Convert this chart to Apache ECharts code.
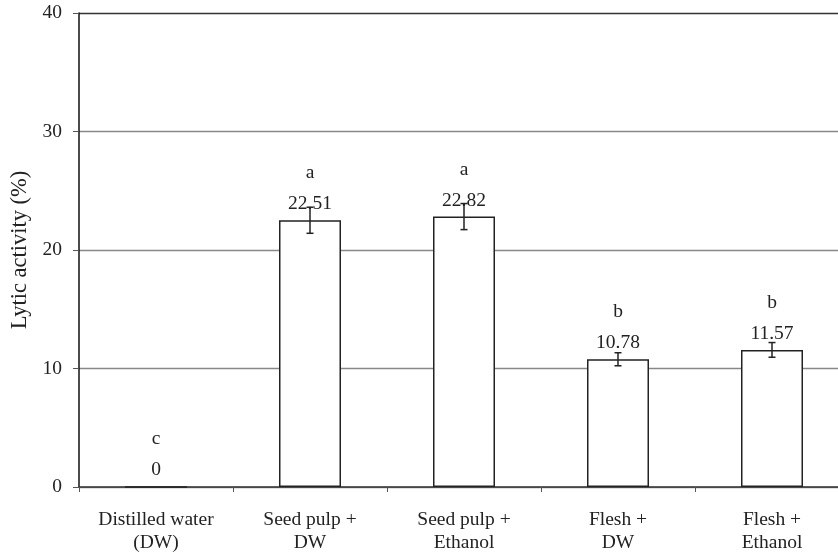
<!DOCTYPE html>
<html>
<head>
<meta charset="utf-8">
<script src="https://cdn.jsdelivr.net/npm/echarts@6/dist/echarts.min.js"></script>
<style>
  html, body { margin: 0; padding: 0; background: #fff; }
  #chart { width: 838px; height: 554px; }
</style>
</head>
<body>
<div id="chart"></div>
<script>
const categories = ['Distilled water\n(DW)', 'Seed pulp +\nDW', 'Seed pulp +\nEthanol', 'Flesh +\nDW', 'Flesh +\nEthanol'];
const values = [0, 22.51, 22.82, 10.78, 11.57];
const errors = [0, 1.1, 1.1, 0.55, 0.62];
const letters = ['c', 'a', 'a', 'b', 'b'];

const font = 'Liberation Serif';
const textColor = '#222';
const fs = 19.5;

const chart = echarts.init(document.getElementById('chart'));

const option = {
  animation: false,
  textStyle: { fontFamily: font },
  grid: { left: 79, top: 13, width: 770, height: 474, containLabel: false, outerBoundsMode: 'none' },
  xAxis: {
    type: 'category',
    data: categories,
    axisLine: { lineStyle: { color: '#333', width: 1.5 } },
    axisTick: { show: true, length: 5, lineStyle: { color: '#555' } },
    axisLabel: {
      color: textColor, fontFamily: font, fontSize: fs,
      lineHeight: 23, margin: 21, interval: 0
    },
    splitLine: { show: false }
  },
  yAxis: {
    type: 'value',
    min: 0,
    max: 40,
    interval: 10,
    name: 'Lytic activity (%)',
    nameLocation: 'middle',
    nameGap: 42,
    nameTextStyle: { color: textColor, fontFamily: font, fontSize: 22.5 },
    axisLine: { show: true, lineStyle: { color: '#111', width: 1.5 } },
    axisTick: { show: true, length: 6, lineStyle: { color: '#555' } },
    axisLabel: { color: textColor, fontFamily: font, fontSize: fs, margin: 17 },
    splitLine: {
      show: true,
      lineStyle: { color: ['#888', '#888', '#888', '#888', '#333'], width: 1.3 }
    }
  },
  series: [
    {
      type: 'bar',
      data: values,
      barWidth: 62,
      itemStyle: { color: '#fff', borderColor: '#222', borderWidth: 1.5 },
      label: {
        show: true,
        position: 'top',
        distance: 5,
        formatter: (p) => '{l|' + letters[p.dataIndex] + '}\n{v|' + values[p.dataIndex] + '}',
        rich: {
          l: { fontFamily: font, fontSize: fs, color: textColor, lineHeight: 40 },
          v: { fontFamily: font, fontSize: fs, color: textColor, lineHeight: 22 }
        }
      },
      z: 2
    },
    {
      type: 'custom',
      data: values.map((v, i) => [i, v, errors[i]]),
      renderItem: (params, api) => {
        const e = api.value(2);
        if (!e) return null;
        const x = api.value(0);
        const v = api.value(1);
        const hi = api.coord([x, v + e]);
        const lo = api.coord([x, v - e]);
        const cap = 3.5;
        const style = { stroke: '#222', lineWidth: 1.5 };
        return {
          type: 'group',
          children: [
            { type: 'line', shape: { x1: hi[0], y1: hi[1], x2: lo[0], y2: lo[1] }, style },
            { type: 'line', shape: { x1: hi[0] - cap, y1: hi[1], x2: hi[0] + cap, y2: hi[1] }, style },
            { type: 'line', shape: { x1: lo[0] - cap, y1: lo[1], x2: lo[0] + cap, y2: lo[1] }, style }
          ]
        };
      },
      z: 5
    }
  ]
};

chart.setOption(option);
</script>
</body>
</html>
